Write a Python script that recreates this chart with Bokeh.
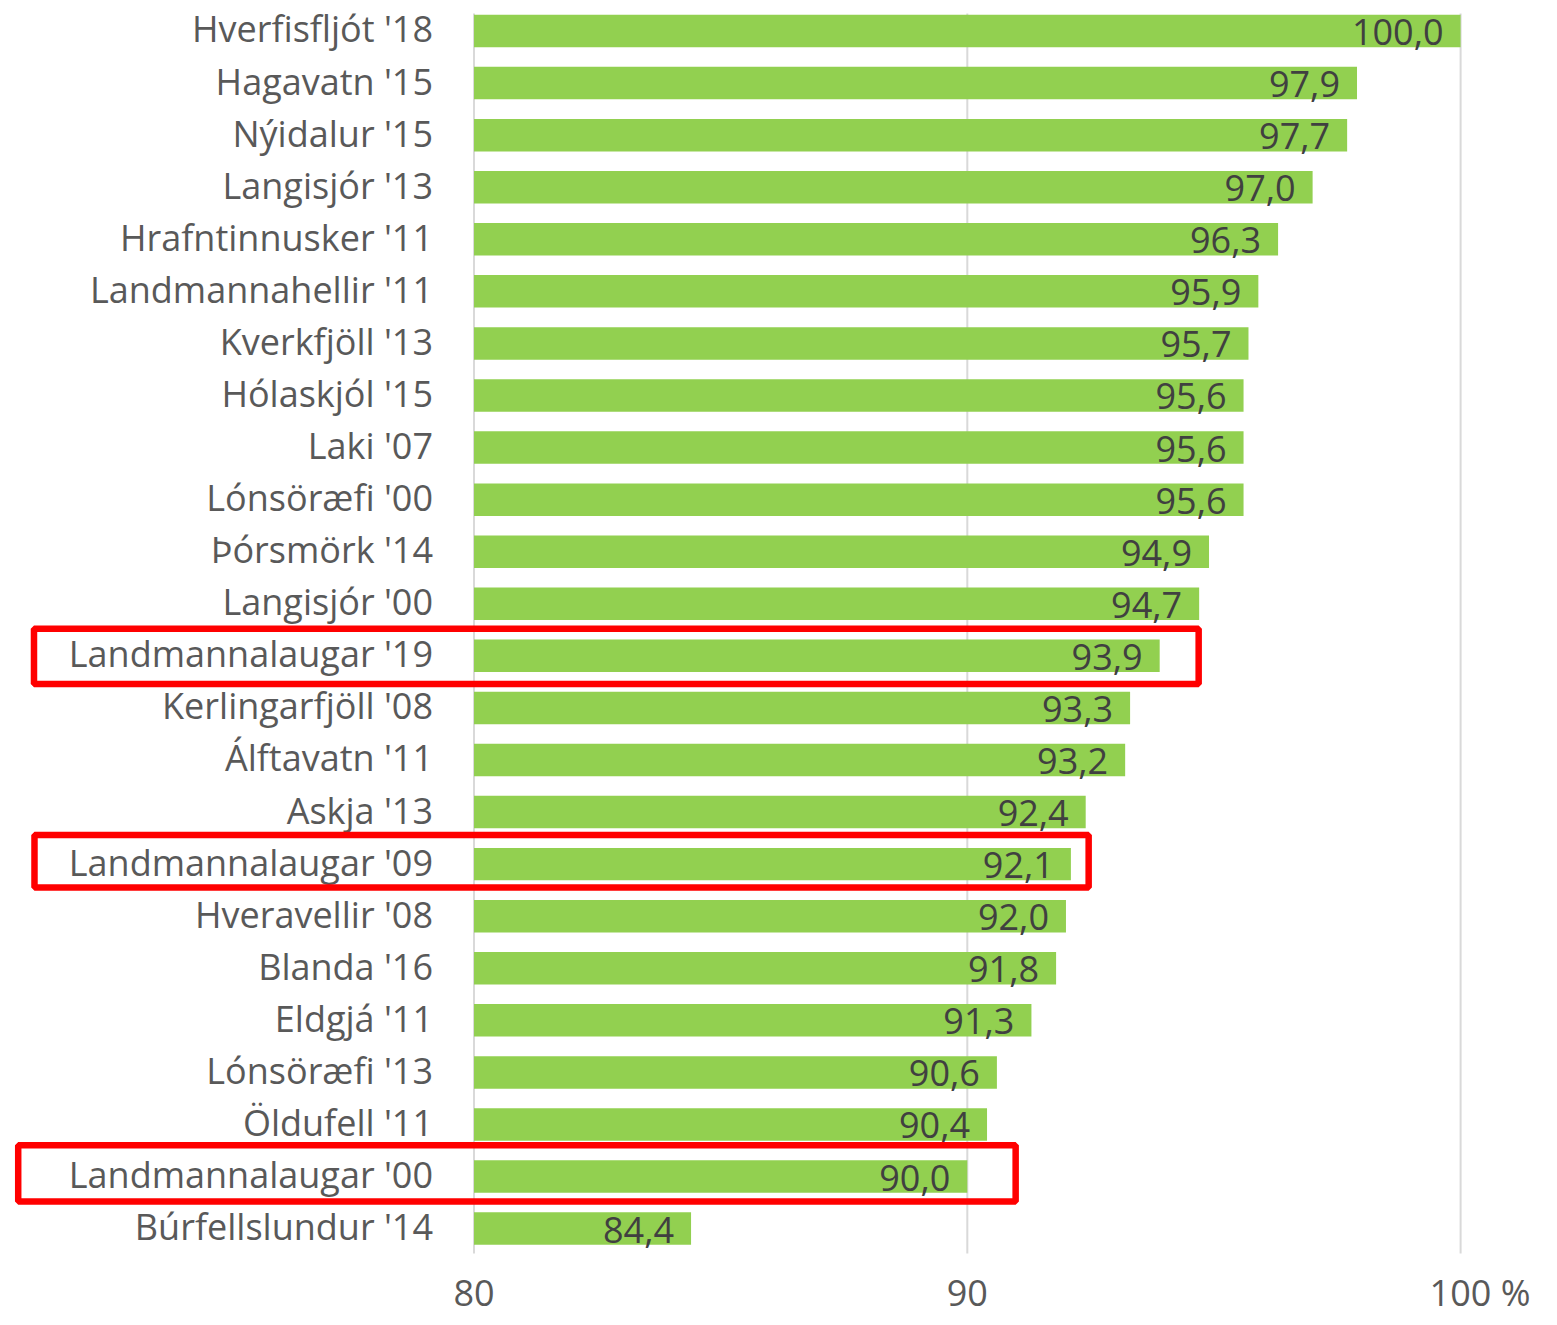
from bokeh.plotting import figure
from bokeh.models import Range1d, ColumnDataSource
from bokeh.core.properties import value
from bokeh.embed import file_html
from bokeh.resources import INLINE

categories = ["Hverfisfljót '18", "Hagavatn '15", "Nýidalur '15", "Langisjór '13",
              "Hrafntinnusker '11", "Landmannahellir '11", "Kverkfjöll '13", "Hólaskjól '15",
              "Laki '07", "Lónsöræfi '00", "Þórsmörk '14", "Langisjór '00",
              "Landmannalaugar '19", "Kerlingarfjöll '08", "Álftavatn '11", "Askja '13",
              "Landmannalaugar '09", "Hveravellir '08", "Blanda '16", "Eldgjá '11",
              "Lónsöræfi '13", "Öldufell '11", "Landmannalaugar '00", "Búrfellslundur '14"]
values = [100.0, 97.9, 97.7, 97.0, 96.3, 95.9, 95.7, 95.6, 95.6, 95.6, 94.9, 94.7,
          93.9, 93.3, 93.2, 92.4, 92.1, 92.0, 91.8, 91.3, 90.6, 90.4, 90.0, 84.4]
x_ticks = [80, 90, 100]
x_tick_labels = ["80", "90", "100 %"]
highlighted = ["Landmannalaugar '19", "Landmannalaugar '09", "Landmannalaugar '00"]
# hand-drawn highlight boxes (data units; top/bottom relative to row centre)
box_left = [71.08, 71.09, 70.76]
box_right = [94.69, 92.46, 90.98]
box_top = [-0.52, -0.56, -0.60]
box_bottom = [0.54, 0.45, 0.48]

# layout (row units: one row per category, 0 at top)
BASE = 80
FONT = "Open Sans"
FS = "36px"
X_RANGE = (70.401, 101.64)
Y_TOP, Y_BOTTOM = -0.5857, 24.707       # visible range
GRID_TOP, GRID_BOTTOM = -0.336, 23.478  # plot-area extent for gridlines

rows = list(range(len(categories)))
labels = [f"{v:.1f}".replace(".", ",") for v in values]

src = ColumnDataSource(dict(y=rows, v=values, base=[BASE] * len(values),
                            cat=categories, lab=labels))

p = figure(width=1541, height=1317, output_backend="svg", toolbar_location=None,
           x_range=Range1d(*X_RANGE), y_range=Range1d(Y_BOTTOM, Y_TOP),
           x_axis_location=None, y_axis_location=None,
           min_border=0, outline_line_color=None)
p.xgrid.visible = False
p.ygrid.visible = False

# vertical gridlines
p.segment(x0=x_ticks, x1=x_ticks, y0=[GRID_TOP] * len(x_ticks),
          y1=[GRID_BOTTOM] * len(x_ticks), line_color="#D9D9D9", line_width=2)

p.hbar(y="y", left="base", right="v", height=0.624, source=src,
       fill_color="#92D050", line_color=None)

p.text(x="base", y="y", text="cat", source=src, x_offset=-41, y_offset=-2,
       text_align="right", text_baseline="middle", text_font=value(FONT),
       text_font_size=FS, text_color="#595959")
p.text(x="v", y="y", text="lab", source=src, x_offset=-17, y_offset=1,
       text_align="right", text_baseline="middle", text_font=value(FONT),
       text_font_size=FS, text_color="#404040")

# x tick labels
p.text(x=x_ticks[:-1], y=[Y_BOTTOM] * (len(x_ticks) - 1), text=x_tick_labels[:-1],
       y_offset=-25, text_align="center", text_baseline="middle",
       text_font=value(FONT), text_font_size=FS, text_color="#595959")
p.text(x=x_ticks[-1:], y=[Y_BOTTOM], text=x_tick_labels[-1:],
       x_offset=-31, y_offset=-25, text_align="left", text_baseline="middle",
       text_font=value(FONT), text_font_size=FS, text_color="#595959")

hi_rows = [categories.index(c) for c in highlighted]
p.quad(left=box_left, right=box_right,
       top=[r + t for r, t in zip(hi_rows, box_top)],
       bottom=[r + b for r, b in zip(hi_rows, box_bottom)],
       fill_color=None, line_color="#FF0000", line_width=6.5)

open("out.html", "w").write(file_html(p, INLINE))
